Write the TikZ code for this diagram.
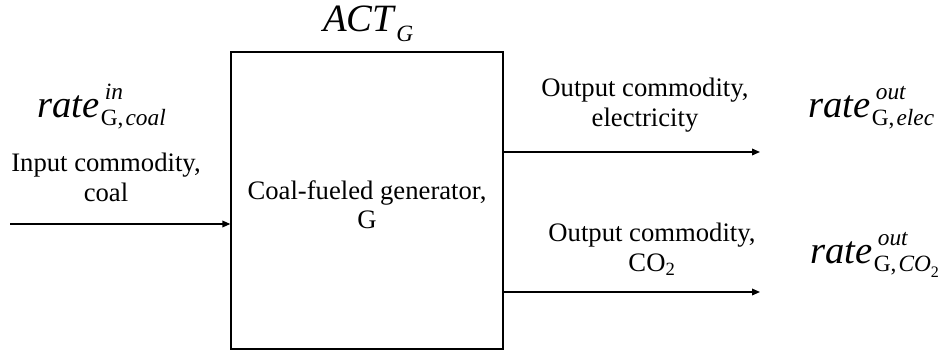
\documentclass[tikz,border=0pt]{standalone}
\usepackage{fontspec}
\setmainfont{Liberation Serif}
\usetikzlibrary{arrows.meta}
\newcommand{\scriptsz}{\fontsize{17.5}{18}\selectfont}
\newcommand{\ratesym}[2]{\textit{rate}\kern1pt\makebox[0pt][l]{\kern3pt\raisebox{13pt}{\scriptsz\textit{#1}}}\raisebox{-6.5pt}{\scriptsz #2}}
\begin{document}
\begin{tikzpicture}[x=0.75pt,y=-0.75pt,
  lbl/.style={inner sep=0pt, align=center, font=\fontsize{20}{22}\selectfont},
  mathlbl/.style={inner sep=0pt, font=\fontsize{29}{34}\selectfont},
  arr/.style={line width=1pt, -{Triangle[length=6pt,width=5pt]}},
  boxstyle/.style={draw, line width=1pt, minimum width=204pt, minimum height=222.75pt, inner sep=0pt}]
\useasboundingbox (0,0) rectangle (941,353);
\node[boxstyle] (gen) at (367,200.5) {};
\node[lbl, anchor=north] (genlbl) at (367,180) {Coal-fueled generator,\\G};
\node[mathlbl, anchor=base west] (act) at (323,32) {\textit{ACT}\raisebox{-7pt}{\scriptsz\textit{G}}};
\node[mathlbl, anchor=base west] (rin) at (37,117) {\ratesym{in}{G,\kern1.5pt\textit{coal}}};
\node[lbl, anchor=north] (inlbl) at (106,153) {Input commodity,\\coal};
\node[lbl, anchor=north] (o1lbl) at (645,78) {Output commodity,\\electricity};
\node[lbl, anchor=north] (o2lbl) at (652,223) {Output commodity,\\CO\textsubscript{2}};
\node[mathlbl, anchor=base west] (rout1) at (808,117) {\ratesym{out}{G,\kern1.5pt\textit{elec}}};
\node[mathlbl, anchor=base west] (rout2) at (810,263) {\ratesym{out}{G,\kern1.5pt\textit{CO}\raisebox{-4pt}{\fontsize{12}{12}\selectfont 2}}};
\coordinate (inS) at (10,224);
\coordinate (o1) at (760,152);
\coordinate (o2) at (760,292);
\draw[arr] (inS) -- (inS -| gen.west);
\draw[arr] (o1 -| gen.east) -- (o1);
\draw[arr] (o2 -| gen.east) -- (o2);
\end{tikzpicture}
\end{document}
